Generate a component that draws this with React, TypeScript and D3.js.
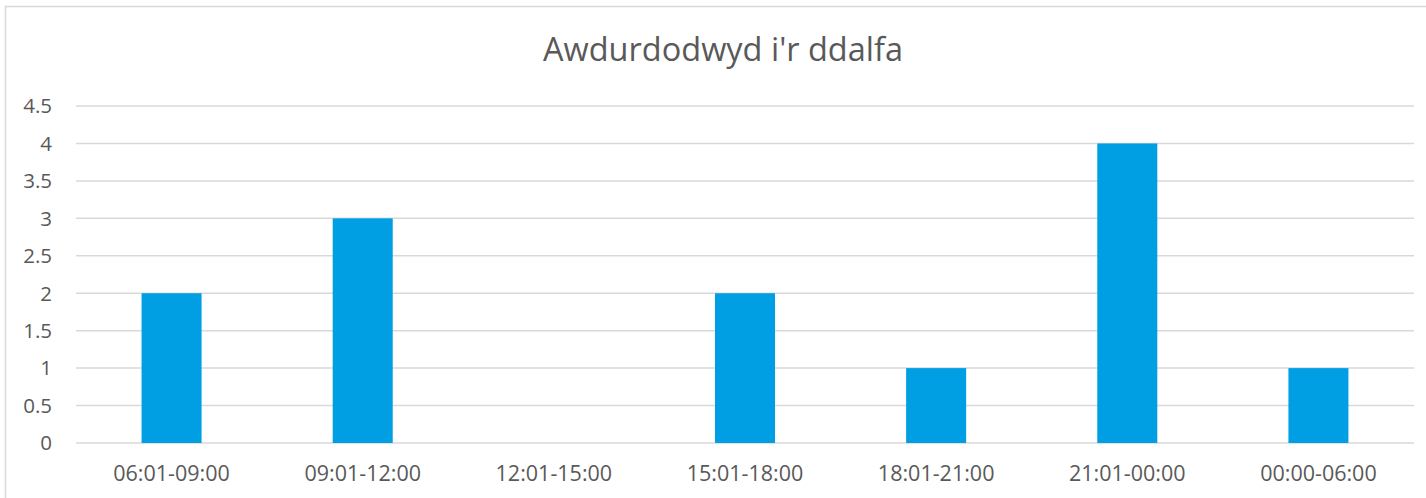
import * as d3 from 'd3';
import React, { useEffect, useRef } from 'react';

const categories = ['06:01-09:00', '09:01-12:00', '12:01-15:00', '15:01-18:00', '18:01-21:00', '21:01-00:00', '00:00-06:00'];
const values = [2, 3, 0, 2, 1, 4, 1];
const yTicks = [0, 0.5, 1, 1.5, 2, 2.5, 3, 3.5, 4, 4.5];
const title = "Awdurdodwyd i'r ddalfa";

const App = () => {
  const svgRef = useRef<SVGSVGElement>(null);

  useEffect(() => {
    const width = 1426;
    const height = 498;
    const plot = { left: 76, right: 1414, top: 106, bottom: 443 };
    const font = '"Open Sans", sans-serif';
    const textColor = '#595959';

    const svg = d3.select(svgRef.current);
    svg.selectAll('*').remove();
    svg.attr('width', width).attr('height', height);

    // chart frame
    svg.append('rect')
      .attr('x', 5.5).attr('y', 6.5)
      .attr('width', width + 20).attr('height', height + 20)
      .attr('fill', '#fff')
      .attr('stroke', '#d9d9d9')
      .attr('stroke-width', 1.5);

    const x = d3.scaleBand<string>()
      .domain(categories)
      .range([plot.left, plot.right])
      .paddingInner(0.686)
      .paddingOuter(0.343);

    const y = d3.scaleLinear()
      .domain([0, 4.5])
      .range([plot.bottom, plot.top]);

    // gridlines
    svg.append('g')
      .selectAll('line')
      .data(yTicks)
      .enter()
      .append('line')
      .attr('x1', plot.left).attr('x2', plot.right)
      .attr('y1', d => y(d)).attr('y2', d => y(d))
      .attr('stroke', '#d9d9d9')
      .attr('stroke-width', 1.5);

    // y labels
    svg.append('g')
      .selectAll('text')
      .data(yTicks)
      .enter()
      .append('text')
      .attr('x', 52)
      .attr('y', d => y(d))
      .attr('dy', '0.36em')
      .attr('text-anchor', 'end')
      .attr('font-family', font)
      .attr('font-size', 20.5)
      .attr('fill', textColor)
      .text(d => String(d));

    // bars
    svg.append('g')
      .selectAll('rect')
      .data(values)
      .enter()
      .append('rect')
      .attr('x', (d, i) => x(categories[i])!)
      .attr('y', d => y(d))
      .attr('width', x.bandwidth())
      .attr('height', d => y(0) - y(d))
      .attr('fill', '#009fe3');

    // x labels
    svg.append('g')
      .selectAll('text')
      .data(categories)
      .enter()
      .append('text')
      .attr('x', d => x(d)! + x.bandwidth() / 2)
      .attr('y', 481)
      .attr('text-anchor', 'middle')
      .attr('font-family', font)
      .attr('font-size', 21.5)
      .attr('fill', textColor)
      .text(d => d);

    // title
    svg.append('text')
      .attr('x', 723)
      .attr('y', 61)
      .attr('text-anchor', 'middle')
      .attr('font-family', font)
      .attr('font-size', 32.5)
      .attr('fill', textColor)
      .text(title);
  }, []);

  return <svg ref={svgRef} style={{ position: 'absolute', left: 0, top: 0, display: 'block' }}></svg>;
};

export default App;
